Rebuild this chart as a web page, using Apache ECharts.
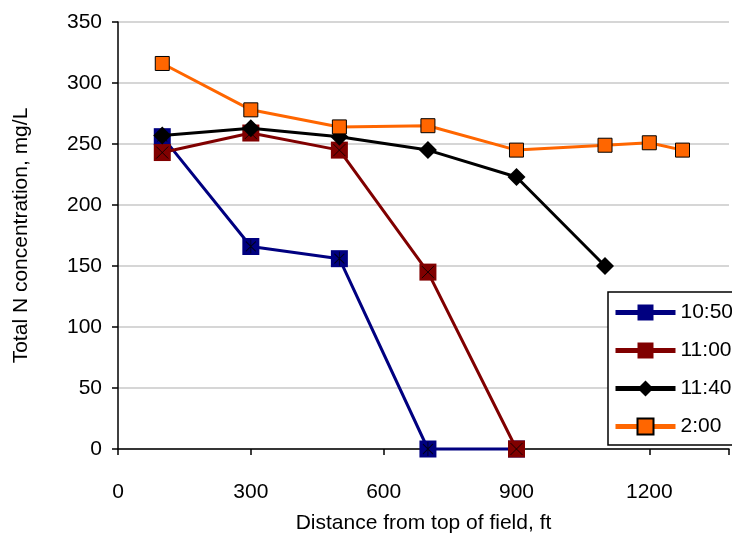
<!DOCTYPE html>
<html><head><meta charset="utf-8">
<script src="https://cdn.jsdelivr.net/npm/echarts@6/dist/echarts.min.js"></script>
<style>html,body{margin:0;padding:0;background:#fff}#c{width:732px;height:545px}</style>
</head><body><div id="c"></div>
<script>
const xTicks = [0, 300, 600, 900, 1200];
const yTicks = [0, 50, 100, 150, 200, 250, 300, 350];
const seriesNames = ['10:50', '11:00', '11:40', '2:00'];
const x1050 = [100, 300, 500, 700, 900];
const y1050 = [256, 166, 156, 0, 0];
const x1100 = [100, 300, 500, 700, 900];
const y1100 = [243, 259, 245, 145, 0];
const x1140 = [100, 300, 500, 700, 900, 1100];
const y1140 = [257, 263, 256, 245, 223, 150];
const x200 = [100, 300, 500, 700, 900, 1100, 1200, 1275];
const y200 = [316, 278, 264, 265, 245, 249, 251, 245];

const pts = (xs, ys) => xs.map((x, i) => [x, ys[i]]);
const FONT = 'Liberation Sans';
const FS = 21;
const asterisk = 'path://M5,0L5,10M0,1.5L10,8.5M10,1.5L0,8.5';
const cross = 'path://M0,0L10,10M10,0L0,10';

const chart = echarts.init(document.getElementById('c'));
chart.setOption({
  animation: false,
  backgroundColor: '#fff',
  textStyle: { fontFamily: FONT },
  grid: { left: 118, right: 0, top: 22, bottom: 96 },
  xAxis: {
    type: 'value', min: 0, max: 1380, interval: 300,
    name: 'Distance from top of field, ft', nameLocation: 'middle', nameGap: 64,
    nameTextStyle: { fontSize: FS, color: '#000', fontFamily: FONT },
    axisLine: { show: true, lineStyle: { color: '#000', width: 1.5 } },
    axisTick: { show: true, inside: false, length: 6, lineStyle: { color: '#000', width: 1.5 } },
    axisLabel: { margin: 33, fontSize: FS, color: '#000', fontFamily: FONT,
      formatter: v => xTicks.includes(v) ? String(v) : '' },
    splitLine: { show: false }
  },
  yAxis: {
    type: 'value', min: 0, max: 350, interval: 50,
    name: 'Total N concentration, mg/L', nameLocation: 'middle', nameGap: 86,
    nameTextStyle: { fontSize: FS, color: '#000', fontFamily: FONT },
    axisLine: { show: true, lineStyle: { color: '#000', width: 1.5 } },
    axisTick: { show: true, inside: false, length: 6, lineStyle: { color: '#000', width: 1.5 } },
    axisLabel: { margin: 16, fontSize: FS, color: '#000', fontFamily: FONT,
      formatter: v => yTicks.includes(v) ? String(v) : '' },
    splitLine: { show: true, lineStyle: { color: '#c8c8c8', width: 1.5 } }
  },
  legend: {
    data: seriesNames,
    orient: 'vertical', left: 608, top: 292,
    padding: [10, 40, 8, 5], itemGap: 17, itemWidth: 60, itemHeight: 20,
    borderColor: '#000', borderWidth: 1.5, backgroundColor: '#fff',
    lineStyle: { width: 5 },
    textStyle: { fontSize: FS, color: '#000', fontFamily: FONT }
  },
  series: [
    { name: '10:50', type: 'line', data: pts(x1050, y1050), symbol: 'rect', symbolSize: 17,
      lineStyle: { color: '#000080', width: 3 }, itemStyle: { color: '#000080' }, clip: false, z: 2 },
    { name: '10:50x', type: 'scatter', data: pts(x1050, y1050), symbol: asterisk, symbolSize: [10, 14],
      itemStyle: { color: 'none', borderColor: '#000', borderWidth: 1 }, clip: false, z: 3, silent: true },
    { name: '11:00', type: 'line', data: pts(x1100, y1100), symbol: 'rect', symbolSize: 17,
      lineStyle: { color: '#800000', width: 3 }, itemStyle: { color: '#800000' }, clip: false, z: 4 },
    { name: '11:00x', type: 'scatter', data: pts(x1100, y1100), symbol: cross, symbolSize: 12,
      itemStyle: { color: 'none', borderColor: '#000', borderWidth: 1 }, clip: false, z: 5, silent: true },
    { name: '11:40', type: 'line', data: pts(x1140, y1140), symbol: 'diamond', symbolSize: 18,
      lineStyle: { color: '#000', width: 3 }, itemStyle: { color: '#000' }, clip: false, z: 6 },
    { name: '2:00', type: 'line', data: pts(x200, y200), symbol: 'rect', symbolSize: 14,
      lineStyle: { color: '#ff6600', width: 3 }, itemStyle: { color: '#ff6600', borderColor: '#000', borderWidth: 1 }, clip: false, z: 7 }
  ]
});
</script></body></html>
